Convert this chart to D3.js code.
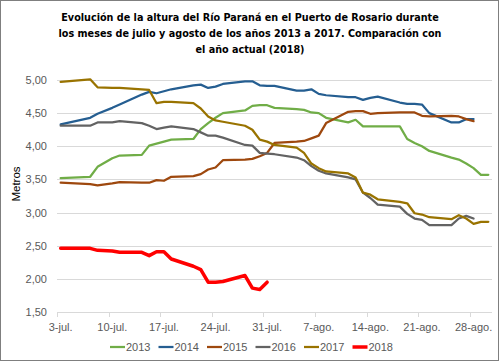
<!DOCTYPE html>
<html>
<head>
<meta charset="utf-8">
<script src="https://cdn.jsdelivr.net/npm/d3@7"></script>
<style>
  body { margin: 0; background: #fff; }
</style>
</head>
<body>
<svg id="chart" width="500" height="362"></svg>
<script>
// days counted from 3-jul. (one value per day listed)
var days = [0,4,5,7,8,11,12,13,14,15,18,19,20,21,22,25,26,27,28,29,32,33,34,35,36,
            39,40,41,42,43,46,47,48,49,50,53,54,55,56,57,58]

var years = ["2013", "2014", "2015", "2016", "2017", "2018"]
var colors = ["#70ad47", "#255e91", "#9e480e", "#636363", "#997300", "#ff0000"]

var v2013 = [3.52,3.54,3.69,3.82,3.86,3.87,4.01,4.04,4.07,4.10,4.11,4.26,4.35,4.43,4.50,4.54,4.61,4.62,4.62,4.58,
             4.56,4.55,4.51,4.50,4.43,4.36,4.40,4.30,4.30,4.30,4.30,4.11,4.05,4.00,3.93,3.83,3.80,3.74,3.67,3.57,3.57]
var v2014 = [4.33,4.43,4.49,4.58,4.63,4.78,4.82,4.80,4.83,4.86,4.92,4.93,4.88,4.90,4.94,4.98,4.98,4.92,4.91,4.91,
             4.84,4.84,4.86,4.79,4.77,4.74,4.74,4.70,4.73,4.75,4.66,4.64,4.64,4.63,4.50,4.36,4.36,4.41,4.41]
var v2015 = [3.45,3.43,3.41,3.44,3.46,3.45,3.45,3.49,3.48,3.54,3.55,3.58,3.65,3.68,3.79,3.80,3.81,3.85,3.90,4.05,
             4.07,4.08,4.12,4.16,4.35,4.52,4.53,4.53,4.49,4.50,4.51,4.51,4.51,4.46,4.45,4.46,4.45,4.41,4.38]
var v2016 = [4.31,4.31,4.36,4.36,4.38,4.35,4.31,4.26,4.28,4.30,4.26,4.21,4.16,4.16,4.13,4.02,4.01,3.90,3.89,3.88,
             3.83,3.79,3.70,3.63,3.59,3.53,3.50,3.30,3.22,3.12,3.09,2.98,2.91,2.89,2.81,2.81,2.91,2.95,2.91]
var v2017 = [4.97,5.01,4.89,4.88,4.88,4.86,4.85,4.65,4.67,4.67,4.65,4.57,4.45,4.39,4.37,4.31,4.25,4.10,4.07,4.02,
             3.98,3.90,3.74,3.67,3.62,3.59,3.53,3.30,3.27,3.20,3.16,3.14,2.99,2.97,2.93,2.90,2.96,2.91,2.83,2.86,2.86]
var v2018 = [2.46,2.46,2.43,2.42,2.40,2.40,2.35,2.41,2.41,2.30,2.19,2.14,1.95,1.95,1.96,2.05,1.86,1.84,1.95]

var yTicks = [1.5, 2, 2.5, 3, 3.5, 4, 4.5, 5]
var xTickLabels = ["3-jul.", "10-jul.", "17-jul.", "24-jul.", "31-jul.", "7-ago.", "14-ago.", "21-ago.", "28-ago."]

var titleLines = [
  "Evolución de la altura del Río Paraná en el Puerto de Rosario durante",
  "los meses de julio y agosto de los años 2013 a 2017. Comparación con",
  "el año actual (2018)"
]

var seriesValues = [v2013, v2014, v2015, v2016, v2017, v2018]

var svg = d3.select("#chart"),
    width = +svg.attr("width"),
    height = +svg.attr("height"),
    plot = {left: 57, right: 492, top: 80, bottom: 312}

// chart border
svg.append("rect")
  .attr("x", 0.5).attr("y", 0.5)
  .attr("width", 498).attr("height", 360)
  .attr("fill", "#fff")
  .attr("stroke", "#7f7f7f")

var x = d3.scaleBand()
    .domain(d3.range(59))
    .range([plot.left, plot.right])

var y = d3.scaleLinear()
    .domain([1.5, 5])
    .range([plot.bottom, plot.top])

var xc = function(d) { return x(d) + x.bandwidth() / 2 }

// gridlines
svg.append("g").selectAll("line")
  .data(yTicks.slice(1))
  .enter().append("line")
    .attr("x1", plot.left).attr("x2", plot.right)
    .attr("y1", function(d) { return Math.round(y(d)) + 0.5 }).attr("y2", function(d) { return Math.round(y(d)) + 0.5 })
    .attr("stroke", "#d9d9d9")
    .attr("stroke-width", 1)

// y labels
svg.append("g").selectAll("text")
  .data(yTicks)
  .enter().append("text")
    .attr("x", 47)
    .attr("y", function(d) { return y(d) + 4 })
    .attr("text-anchor", "end")
    .attr("font-family", "Liberation Sans, Arial, sans-serif")
    .attr("font-size", "11px")
    .attr("fill", "#595959")
    .text(function(d) { return d3.format(".2f")(d).replace(".", ",") })

svg.append("text")
  .attr("transform", "translate(20,184) rotate(-90)")
  .attr("text-anchor", "middle")
  .attr("font-family", "Liberation Sans, Arial, sans-serif")
  .attr("font-size", "11.5px")
  .attr("fill", "#000")
  .text("Metros")

// x axis line and ticks
svg.append("line")
  .attr("x1", plot.left).attr("x2", plot.right)
  .attr("y1", plot.bottom + 0.5).attr("y2", plot.bottom + 0.5)
  .attr("stroke", "#d9d9d9")

var tickDays = d3.range(0, 59, 7)

svg.append("g").selectAll("line")
  .data(tickDays)
  .enter().append("line")
    .attr("x1", function(d) { return Math.round(x(d)) + 0.5 })
    .attr("x2", function(d) { return Math.round(x(d)) + 0.5 })
    .attr("y1", plot.bottom).attr("y2", plot.bottom + 5)
    .attr("stroke", "#d9d9d9")

svg.append("g").selectAll("text")
  .data(tickDays)
  .enter().append("text")
    .attr("x", function(d) { return xc(d) })
    .attr("y", 331)
    .attr("text-anchor", "middle")
    .attr("font-family", "Liberation Sans, Arial, sans-serif")
    .attr("font-size", "11px")
    .attr("fill", "#595959")
    .text(function(d, i) { return xTickLabels[i] })

// lines
var line = d3.line()
    .x(function(d) { return xc(d[0]) })
    .y(function(d) { return y(d[1]) })

svg.append("g").selectAll("path")
  .data(seriesValues)
  .enter().append("path")
    .attr("d", function(vals) {
      return line(vals.map(function(v, i) { return [days[i], v] }))
    })
    .attr("fill", "none")
    .attr("stroke", function(d, i) { return colors[i] })
    .attr("stroke-width", function(d, i) { return i == 5 ? 3.5 : 2.25 })
    .attr("stroke-linejoin", "round")
    .attr("stroke-linecap", "round")

// title: condensed bold, font size fitted so the first line is ~378px wide
var title = svg.append("g").selectAll("text")
  .data(titleLines)
  .enter().append("text")
    .attr("x", 250)
    .attr("y", function(d, i) { return 21 + i * 16 })
    .attr("text-anchor", "middle")
    .attr("font-family", "DejaVu Sans Condensed, Liberation Sans Narrow, sans-serif")
    .attr("font-weight", "bold")
    .attr("font-size", "14px")
    .attr("fill", "#000")
    .text(function(d) { return d })

var fitSize = 14 * 378 / title.node().getComputedTextLength()
title.attr("font-size", Math.min(14, fitSize) + "px")

// legend
var legend = svg.append("g").selectAll("g")
  .data(years)
  .enter().append("g")
    .attr("transform", function(d, i) { return "translate(" + (110 + i * 48.5) + ",347)" })

legend.append("line")
  .attr("x1", 0).attr("x2", 15)
  .attr("stroke", function(d, i) { return colors[i] })
  .attr("stroke-width", function(d, i) { return i == 5 ? 3.5 : 2.25 })

legend.append("text")
  .attr("x", 16)
  .attr("y", 4)
  .attr("font-family", "Liberation Sans, Arial, sans-serif")
  .attr("font-size", "11px")
  .attr("fill", "#595959")
  .text(function(d) { return d })
</script>
</body>
</html>
